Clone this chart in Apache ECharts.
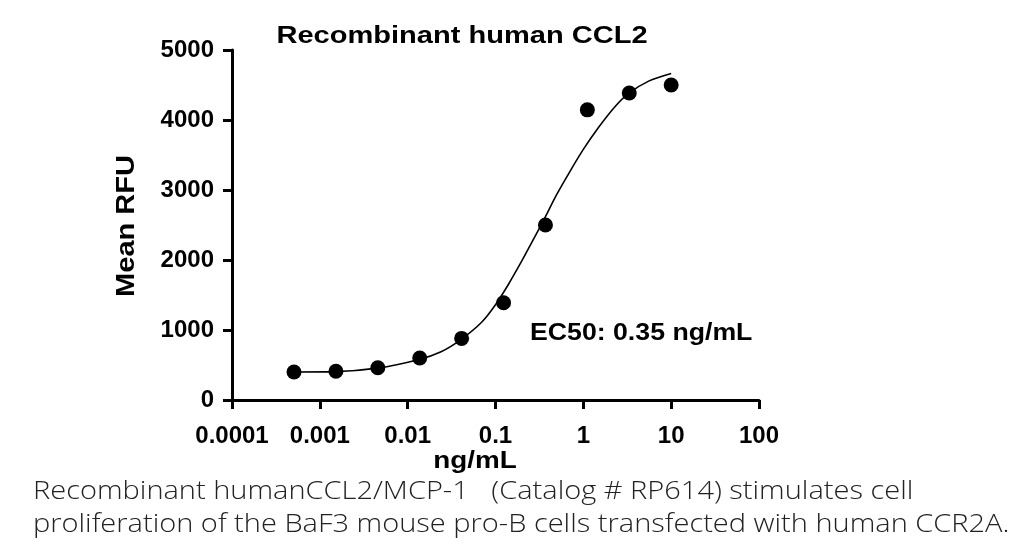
<!DOCTYPE html>
<html>
<head>
<meta charset="utf-8">
<script src="https://cdn.jsdelivr.net/npm/echarts@6/dist/echarts.min.js"></script>
<style>
  html, body { margin: 0; padding: 0; background: #fff; }
  #chart { width: 1024px; height: 555px; }
</style>
</head>
<body>
<div id="chart"></div>
<script>
// measured points (ng/mL, mean RFU)
const doses = [0.000508, 0.001524, 0.004572, 0.01372, 0.04115, 0.1235, 0.3704, 1.111, 3.333, 10];
const rfu = [400, 410, 460, 600, 880, 1390, 2500, 4145, 4385, 4500];

// fitted curve
const curveX = [0.0005, 0.0015, 0.0045, 0.0135, 0.024, 0.04, 0.07, 0.1, 0.14, 0.2, 0.28, 0.36, 0.5, 0.7, 1.0, 1.48, 2.29, 3.28, 5.54, 10];
const curveY = [400, 405, 455, 580, 690, 860, 1115, 1360, 1650, 1990, 2330, 2590, 2940, 3260, 3580, 3890, 4190, 4380, 4555, 4665];

const xTickLabels = ['0.0001', '0.001', '0.01', '0.1', '1', '10', '100'];
const yTicks = [0, 1000, 2000, 3000, 4000, 5000];

const titleText = 'Recombinant human CCL2';
const ec50Text = 'EC50: 0.35 ng/mL';
const xName = 'ng/mL';
const yName = 'Mean RFU';
const captionLines = [
    'Recombinant humanCCL2/MCP-1   (Catalog # RP614) stimulates cell',
    'proliferation of the BaF3 mouse pro-B cells transfected with human CCR2A.'
];

const boldFont = (size) => 'bold ' + size + 'px "Liberation Sans", Arial, sans-serif';
const lightFont = '300 25px "Open Sans", sans-serif';
const bold = { fontFamily: 'Liberation Sans, Arial, sans-serif', fontWeight: 'bold', color: '#000' };

// text helper for graphic elements (stretched a bit like the original)
function label(text, x, y, font, opts) {
    opts = opts || {};
    return {
        type: 'text', x: x, y: y,
        scaleX: opts.scaleX || 1.16,
        rotation: opts.rotation || 0,
        style: {
            text: text, font: font, fill: opts.fill || '#000',
            align: opts.align || 'center', verticalAlign: 'middle'
        }
    };
}

var myChart = echarts.init(document.getElementById('chart'));
myChart.setOption({
    animation: false,
    backgroundColor: '#fff',
    graphic: [
        label(titleText, 462, 36, boldFont(24), { scaleX: 1.21 }),
        label(ec50Text, 530, 334, boldFont(23), { align: 'left' }),
        label(xName, 475, 461, boldFont(24)),
        label(yName, 127, 226, boldFont(25), { rotation: Math.PI / 2 }),
        label(captionLines[0], 33, 492, lightFont, { align: 'left', fill: '#222' }),
        label(captionLines[1], 33, 525, lightFont, { align: 'left', fill: '#222' })
    ],
    grid: { left: 232, right: 265, top: 50, bottom: 155 },
    xAxis: {
        type: 'log',
        logBase: 10,
        min: 0.0001,
        max: 100,
        axisLine: { lineStyle: { color: '#000', width: 3 } },
        axisTick: { show: true, length: 9, lineStyle: { color: '#000', width: 3 } },
        minorTick: { show: false },
        splitLine: { show: false },
        axisLabel: Object.assign({
            fontSize: 24,
            margin: 24,
            formatter(v) {
                return xTickLabels[Math.round(Math.log10(v)) + 4];
            }
        }, bold)
    },
    yAxis: {
        type: 'value',
        min: yTicks[0],
        max: yTicks[yTicks.length - 1],
        interval: 1000,
        axisLine: { show: true, lineStyle: { color: '#000', width: 3 } },
        axisTick: { show: true, length: 9, lineStyle: { color: '#000', width: 3 } },
        splitLine: { show: false },
        axisLabel: Object.assign({
            fontSize: 24,
            margin: 18,
            formatter(v) { return String(v); }
        }, bold)
    },
    series: [
        {
            type: 'line',
            data: curveX.map((x, i) => [x, curveY[i]]),
            smooth: 0.3,
            showSymbol: false,
            lineStyle: { color: '#000', width: 1.6 },
            z: 2
        },
        {
            type: 'scatter',
            data: doses.map((x, i) => [x, rfu[i]]),
            symbol: 'circle',
            symbolSize: 15,
            itemStyle: { color: '#000', opacity: 1 },
            z: 3
        }
    ]
});
</script>
</body>
</html>
